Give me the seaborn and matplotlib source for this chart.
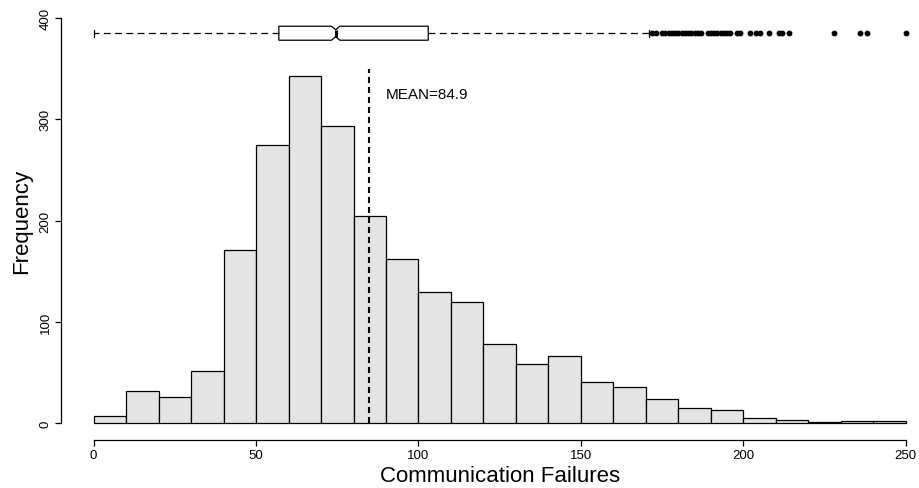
import matplotlib
matplotlib.use("Agg")
import matplotlib.pyplot as plt
import numpy as np
import pandas as pd
import seaborn as sns

# Histogram bins (width 10) and their frequencies
bin_edges = list(range(0, 260, 10))
counts = [7, 32, 26, 52, 171, 275, 343, 293, 205, 162, 130, 120, 78,
          59, 67, 41, 36, 24, 15, 13, 5, 3, 1, 2, 2]

# Summary statistics
mean_value = 84.9

# Five-number summary for the notched boxplot drawn above the histogram
box_whisker_low = 0
box_q1 = 57
box_median = 74.5
box_q3 = 103
box_whisker_high = 171
notch_low = 73.2
notch_high = 75.8
outliers = [172, 173, 175, 176, 177, 178, 179, 180, 181, 182, 183, 184, 185,
            186, 187, 189, 190, 191, 192, 193, 194, 195, 196, 198, 199, 202,
            204, 205, 208, 211, 212, 214, 228, 236, 238, 250]

x_ticks = [0, 50, 100, 150, 200, 250]
y_ticks = [0, 100, 200, 300, 400]

sns.set_theme(style="white")
plt.rcParams["font.family"] = ["Liberation Sans", "DejaVu Sans"]
plt.rcParams["text.color"] = "black"

W, H = 919, 489
fig = plt.figure(figsize=(W / 100, H / 100), dpi=100)
left_px, right_px = 61.2, 938.2
top_px, bottom_px = 2.8, 440.7
ax = fig.add_axes([left_px / W, (H - bottom_px) / H,
                   (right_px - left_px) / W, (bottom_px - top_px) / H])

mids = [(bin_edges[i] + bin_edges[i + 1]) / 2 for i in range(len(counts))]
df = pd.DataFrame({"value": mids, "count": counts})
sns.histplot(data=df, x="value", weights="count", bins=bin_edges,
             color="#e4e4e4", edgecolor="black", linewidth=0.9, alpha=1,
             ax=ax)

# Mean marker
ax.plot([mean_value, mean_value], [0, 350], color="black", linewidth=1.5,
        dashes=(2.9, 1.9), zorder=3)
ax.text(90, 325, f"MEAN={mean_value}", fontsize=11, ha="left", va="center",
        color="black")

# Notched horizontal boxplot at the top of the panel
stats = [dict(whislo=box_whisker_low, q1=box_q1, med=box_median, q3=box_q3,
              whishi=box_whisker_high, fliers=outliers,
              cilo=notch_low, cihi=notch_high)]
bxp_kw = dict(positions=[385], widths=13.8, shownotches=True,
              patch_artist=True, manage_ticks=False,
              boxprops=dict(facecolor="white", edgecolor="black", linewidth=0.9),
              whiskerprops=dict(color="black", linewidth=0.9,
                                linestyle=(0, (5.5, 3.5))),
              capprops=dict(color="black", linewidth=0.9),
              medianprops=dict(color="black", linewidth=2.2),
              flierprops=dict(marker="o", markerfacecolor="black",
                              markeredgecolor="black", markersize=3.2))
try:
    ax.bxp(stats, orientation="horizontal", **bxp_kw)
except TypeError:
    ax.bxp(stats, vert=False, **bxp_kw)

ax.set_xlim(-10, 260)
ax.set_ylim(-16, 416)
ax.set_xticks(x_ticks)
ax.set_yticks(y_ticks)
ax.set_xticklabels([str(t) for t in x_ticks])
ax.set_yticklabels([str(t) for t in y_ticks], rotation=90, va="center")

for side in ("top", "right"):
    ax.spines[side].set_visible(False)
for side in ("left", "bottom"):
    ax.spines[side].set_color("black")
    ax.spines[side].set_linewidth(0.9)
ax.spines["left"].set_bounds(0, 400)
ax.spines["bottom"].set_bounds(0, 250)
ax.tick_params(axis="both", which="major", bottom=True, left=True,
               direction="out", length=4, width=0.9,
               color="black", labelsize=9.5, pad=3, labelcolor="black")
ax.grid(False)

ax.set_xlabel("Communication Failures", fontsize=16, color="black")
ax.set_ylabel("Frequency", fontsize=16, color="black")
ax.xaxis.label.set_va("baseline")
ax.xaxis.set_label_coords(0.5, (bottom_px - 481.7) / (bottom_px - top_px))
ax.yaxis.label.set_va("center")
ax.yaxis.set_label_coords((22 - left_px) / (right_px - left_px), 0.5)

fig.savefig("out.png", dpi=100)
